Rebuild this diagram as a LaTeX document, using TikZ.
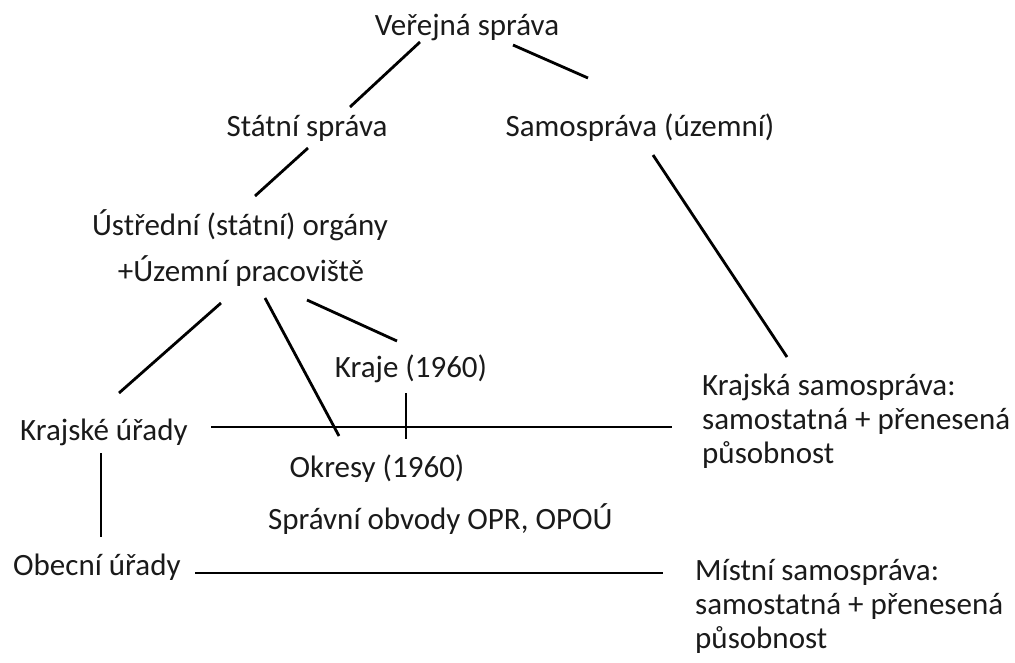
\documentclass[tikz,border=0pt]{standalone}
\usepackage{fontspec}
\setmainfont{Carlito}
\usepackage{tikz}
\usetikzlibrary{positioning,calc}
\definecolor{textgray}{HTML}{1A1A1A}

\begin{document}
\begin{tikzpicture}[
  x=1pt,y=-1pt,
  lbl/.style={inner sep=0pt,font=\fontsize{31}{34}\selectfont,text=textgray},
  lblc/.style={lbl,anchor=base},
  lbll/.style={lbl,anchor=base west},
  blk/.style={lbl,anchor=west,align=left},
  link/.style={line width=2.8pt,color=black},
  thinlink/.style={line width=1.2pt,color=black}
]
\useasboundingbox (0,0) rectangle (1015,662);
\node[lblc] (ver) at (467,35) {Veřejná správa};
\node[lblc] (stat) at (307,136) {Státní správa};
\node[lblc] (samo) at (640,136) {Samospráva (územní)};
\node[lblc] (ustr) at (240,235) {Ústřední (státní) orgány};
\node[lblc] (uzem) at (241,281) {+Územní pracoviště};
\node[lblc] (kraje) at (411,377) {Kraje (1960)};
\node[lbll] (kru) at (20,440) {Krajské úřady};
\node[lblc] (okr) at (377,477) {Okresy (1960)};
\node[lbll] (sprob) at (268,529) {Správní obvody OPR, OPOÚ};
\node[lbll] (obu) at (13,575) {Obecní úřady};
\node[blk] (ksam) at (702,421) {Krajská samospráva:\\samostatná + přenesená\\působnost};
\node[blk] (msam) at (695,606) {Místní samospráva:\\samostatná + přenesená\\působnost};

\draw[link] ([shift={(-47,7)}]ver.base) -- ([shift={(43,-29)}]stat.base);
\draw[link] ([shift={(46,10)}]ver.base) -- ([shift={(-52,-58)}]samo.base);
\draw[link] ([shift={(1,12)}]stat.base) -- ([shift={(15,-39)}]ustr.base);
\draw[link] ([shift={(13,19)}]samo.base) -- ([shift={(85,-64)}]ksam.west);
\draw[link] ([shift={(-20,22)}]uzem.base) -- ([shift={(99,-47)}]kru.base west);
\draw[link] ([shift={(24,17)}]uzem.base) -- ([shift={(-38,-41)}]okr.base);
\draw[link] ([shift={(66,19)}]uzem.base) -- ([shift={(-14,-36)}]kraje.base);
\draw[thinlink] ([shift={(-5,16)}]kraje.base) -- ([shift={(29,-38)}]okr.base);
\draw[link] ([shift={(191,-13)}]kru.base west) -- ([shift={(-30,6)}]ksam.west);
\draw[link] ([shift={(81,13)}]kru.base west) -- ([shift={(88,-38)}]obu.base west);
\draw[link] ([shift={(182,-2)}]obu.base west) -- ([shift={(-32,-33)}]msam.west);
\end{tikzpicture}
\end{document}
